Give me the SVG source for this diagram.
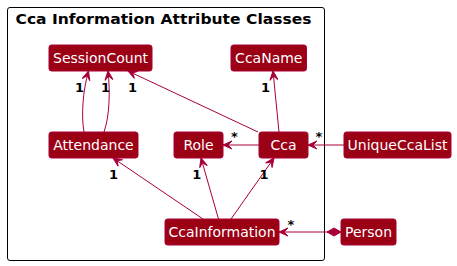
<svg xmlns="http://www.w3.org/2000/svg" width="457" height="266" viewBox="0 0 457 266">
<style>
.node rect{fill:#9b0014;stroke:#a80036;stroke-width:1}
.node text{font-family:"DejaVu Sans",sans-serif;font-size:14px;fill:#ffffff;text-anchor:middle}
.edge{fill:none;stroke:#a80036;stroke-width:1}
.lbl{font-family:"DejaVu Sans",sans-serif;font-size:13px;font-weight:bold;fill:#000000;text-anchor:middle}
.title{font-family:"DejaVu Sans",sans-serif;font-size:14px;font-weight:bold;fill:#000000}
</style>
<defs>
<marker id="arr" markerUnits="userSpaceOnUse" viewBox="-10 -5 11 10" refX="0" refY="0" markerWidth="11" markerHeight="10" orient="auto">
<path d="M0,0 L-9,-4 L-5,0 L-9,4 Z" fill="#a80036" stroke="#a80036" stroke-width="1"/>
</marker>
<marker id="dia" markerUnits="userSpaceOnUse" viewBox="-15 -5 16 10" refX="0" refY="0" markerWidth="16" markerHeight="10" orient="auto">
<path d="M0,0 L-7,-4 L-14,0 L-7,4 Z" fill="#a80036" stroke="#a80036" stroke-width="1"/>
</marker>
</defs>
<g id="frame">
<rect x="7.5" y="7.5" width="317" height="253" rx="2.5" ry="2.5" fill="none" stroke="#000000" stroke-width="1"/>
<text class="title" x="15.5" y="23.5" textLength="296" lengthAdjust="spacingAndGlyphs">Cca Information Attribute Classes</text>
</g>
<g id="connectors">
<path class="edge" d="M84,132 C81,115 83,90 88.5,71" marker-end="url(#arr)"/>
<path class="edge" d="M104,132 C110,115 110,90 108,71" marker-end="url(#arr)"/>
<path class="edge" d="M258,132 L128,71" marker-end="url(#arr)"/>
<path class="edge" d="M279,132 L273,71" marker-end="url(#arr)"/>
<path class="edge" d="M259,145 L223,145" marker-end="url(#arr)"/>
<path class="edge" d="M344,145 L308,145" marker-end="url(#arr)"/>
<path class="edge" d="M203,219 L113,158" marker-end="url(#arr)"/>
<path class="edge" d="M218.5,219 L201,158" marker-end="url(#arr)"/>
<path class="edge" d="M231,219 L274,158" marker-end="url(#arr)"/>
<path class="edge" d="M327,232 L279,232" marker-end="url(#arr)"/>
<path class="edge" d="M327,232 L341,232" marker-end="url(#dia)"/>
<text class="lbl" x="79.5" y="92">1</text>
<text class="lbl" x="105.5" y="92">1</text>
<text class="lbl" x="132.5" y="92">1</text>
<text class="lbl" x="265.5" y="92">1</text>
<text class="lbl" x="234.5" y="141">*</text>
<text class="lbl" x="319" y="141">*</text>
<text class="lbl" x="113.5" y="179">1</text>
<text class="lbl" x="196.7" y="179">1</text>
<text class="lbl" x="264" y="179">1</text>
<text class="lbl" x="291" y="229">*</text>
</g>
<g id="SessionCount" class="node"><rect x="49" y="45" width="103" height="26" rx="2.5"/><text x="100.5" y="63.3">SessionCount</text></g>
<g id="CcaName" class="node"><rect x="231" y="45" width="75.5" height="26" rx="2.5"/><text x="268.8" y="63.3">CcaName</text></g>
<g id="Attendance" class="node"><rect x="49" y="132" width="89" height="26" rx="2.5"/><text x="93.5" y="150.3">Attendance</text></g>
<g id="Role" class="node"><rect x="174" y="132" width="49" height="26" rx="2.5"/><text x="198.5" y="150.3">Role</text></g>
<g id="Cca" class="node"><rect x="259" y="132" width="49" height="26" rx="2.5"/><text x="283.5" y="150.3">Cca</text></g>
<g id="UniqueCcaList" class="node"><rect x="344" y="132" width="107" height="26" rx="2.5"/><text x="397.5" y="150.3">UniqueCcaList</text></g>
<g id="CcaInformation" class="node"><rect x="165" y="219" width="114" height="26" rx="2.5"/><text x="222" y="237.3">CcaInformation</text></g>
<g id="Person" class="node"><rect x="341" y="219" width="55" height="26" rx="2.5"/><text x="368.5" y="237.3">Person</text></g>
</svg>
